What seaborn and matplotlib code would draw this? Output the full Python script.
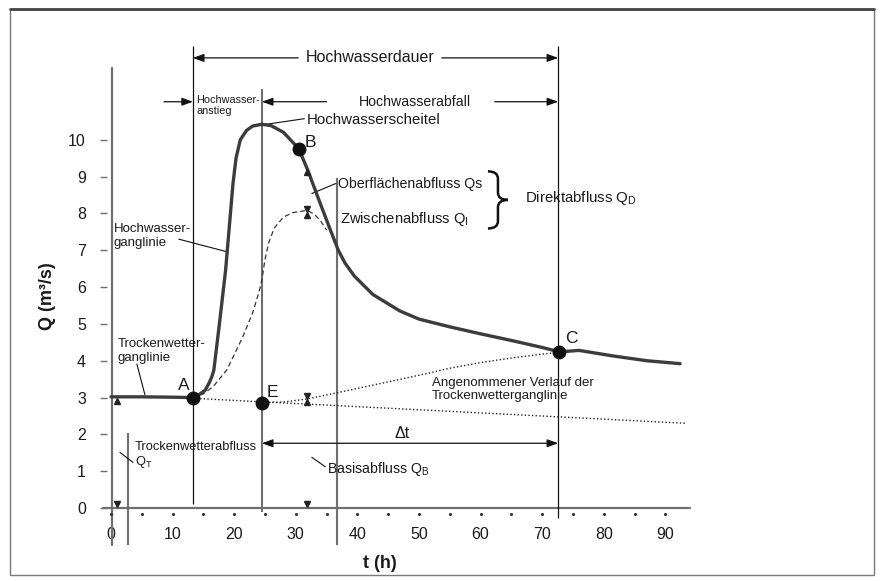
import numpy as np
import matplotlib
matplotlib.use("Agg")
import matplotlib.pyplot as plt
import seaborn as sns
from matplotlib.path import Path
from matplotlib.patches import PathPatch, Rectangle
from matplotlib.lines import Line2D

# ---------------- data ----------------
hyd_t = [0, 5, 10, 13.3, 14.3, 15.3, 16.0, 16.4, 16.7, 17.6, 18.6, 19.8, 20.3,
         21.0, 22.0, 23.0, 24.5, 26.0, 28.0, 30.5, 32.0, 33.9, 35.5, 36.9, 38.0,
         39.5, 42.5, 46.9, 50, 55, 60, 65, 70, 72.8, 76, 81.5, 87, 92.4]
hyd_q = [3.02, 3.02, 3.01, 3.0, 3.08, 3.2, 3.42, 3.58, 3.75, 5.0, 6.45, 8.8, 9.5,
         10.0, 10.25, 10.37, 10.42, 10.38, 10.2, 9.75, 9.15, 8.3, 7.6, 7.0, 6.65,
         6.3, 5.8, 5.35, 5.13, 4.92, 4.73, 4.55, 4.36, 4.24, 4.28, 4.13, 4.0, 3.92]

inter_t = [13.3, 15.0, 16.6, 18.8, 20.4, 21.4, 23.0, 24.0, 24.5, 25.0, 25.6,
           26.5, 28.0, 29.5, 31.8, 33.0, 34.0, 35.0]
inter_q = [3.0, 3.1, 3.3, 3.75, 4.3, 4.65, 5.3, 5.85, 6.2, 6.75, 7.2,
           7.6, 7.9, 8.02, 8.08, 7.98, 7.8, 7.55]

base_t = [13.3, 93.5]
base_q = [2.98, 2.30]

assumed_t = [24.5, 28.0, 31.8, 36.7, 43.7, 51.8, 54.5, 60.0, 65.3, 70.0, 72.8]
assumed_q = [2.86, 2.88, 2.96, 3.13, 3.38, 3.67, 3.78, 3.95, 4.08, 4.18, 4.23]

point_labels = ["A", "B", "C", "E"]
point_t = [13.3, 30.6, 72.8, 24.5]
point_q = [3.0, 9.75, 4.23, 2.86]

x_ticks = [0, 10, 20, 30, 40, 50, 60, 70, 80, 90]
x_minor = [0, 5, 10, 15, 20, 25, 30, 35, 40, 45, 50, 55, 60, 65, 70, 75, 80, 85, 90]
y_ticks = [0, 1, 2, 3, 4, 5, 6, 7, 8, 9, 10]

# measurement arrowheads
up_t = [1.0, 31.9, 31.9, 31.9]
up_q = [2.9, 9.12, 7.95, 2.875]
down_t = [1.0, 31.9, 31.9, 31.9]
down_q = [0.1, 8.12, 3.045, 0.1]

# ---------------- style ----------------
sns.set_theme(style="white")
plt.rcParams['font.family'] = ['Liberation Sans', 'DejaVu Sans']
plt.rcParams['mathtext.fontset'] = 'custom'
plt.rcParams['mathtext.rm'] = 'Liberation Sans'
plt.rcParams['mathtext.it'] = 'Liberation Sans:italic'
plt.rcParams['mathtext.bf'] = 'Liberation Sans:bold'

TXT = '#1a1a1a'
GRAY = '#6f6f6f'

fig = plt.figure(figsize=(8.84, 5.81), dpi=100)
ax = fig.add_axes([0.1207, 0.1033, 0.6598, 0.7831])
ax.set_xlim(-0.7, 94)
ax.set_ylim(-0.35, 12.0)
for s in ax.spines.values():
    s.set_visible(False)
ax.set_facecolor('white')

# axis lines
ax.plot([-1.3, 94], [0, 0], color=GRAY, lw=1.6, clip_on=False, zorder=2)
ax.plot([0.2, 0.2], [-1.0, 11.95], color=GRAY, lw=1.6, clip_on=False, zorder=2)

# ticks
ax.set_yticks(y_ticks)
ax.set_yticklabels([str(v) for v in y_ticks], fontsize=11.5, color=TXT)
ax.tick_params(axis='y', direction='out', length=5, width=1, color=GRAY, pad=10, left=True)
ax.set_xticks(x_ticks)
ax.set_xticklabels([str(v) for v in x_ticks], fontsize=11.5, color=TXT)
ax.tick_params(axis='x', length=0, pad=4)
ax.scatter(x_minor, [-0.15] * len(x_minor), s=1.5, color='#333', clip_on=False, zorder=3)
ax.grid(False)

# vertical reference lines
ax.vlines([2.8, 24.5, 36.7], [-1.0, -0.1, -1.0], [2.05, 11.38, 8.95],
          colors=GRAY, lw=1.5, clip_on=False, zorder=2)
ax.vlines([13.3, 72.6], [0.1, -0.27], [12.55, 12.55], colors='#111', lw=0.9,
          clip_on=False, zorder=2)

# curves
sns.lineplot(x=base_t, y=base_q, ax=ax, color='#222', lw=1.0,
             linestyle=(0, (1, 1.6)), sort=False, estimator=None, zorder=3)
sns.lineplot(x=assumed_t, y=assumed_q, ax=ax, color='#222', lw=1.0,
             linestyle=(0, (1, 1.6)), sort=False, estimator=None, zorder=3)
sns.lineplot(x=inter_t, y=inter_q, ax=ax, color='#333', lw=0.9,
             linestyle=(0, (4, 2.5)), sort=False, estimator=None, zorder=3)
sns.lineplot(x=hyd_t, y=hyd_q, ax=ax, color='#3c3c3c', lw=2.4,
             sort=False, estimator=None, zorder=4)

# points
ax.plot(point_t, point_q, 'o', color='#111', markersize=9, zorder=5, clip_on=False)
lab_pos = {"A": (12.8, 3.32, 'right'), "B": (31.4, 9.92, 'left'),
           "C": (73.7, 4.6, 'left'), "E": (25.3, 3.14, 'left')}
for lab in point_labels:
    tx, ty, ha = lab_pos[lab]
    ax.text(tx, ty, lab, fontsize=12.5, ha=ha, va='center', color=TXT, zorder=6)

# arrowhead markers
ax.plot(up_t, up_q, '^', color='#222', markersize=4.5, zorder=5, clip_on=False, lw=0)
ax.plot(down_t, down_q, 'v', color='#222', markersize=4.5, zorder=5, clip_on=False, lw=0)

# ---------------- annotations ----------------
def arrow(x0, y0, x1, y1, style='-|>'):
    ax.annotate('', xy=(x1, y1), xytext=(x0, y0),
                arrowprops=dict(arrowstyle=style + ',head_length=0.55,head_width=0.2',
                                lw=0.9, color='#111', shrinkA=0, shrinkB=0),
                annotation_clip=False)

def leader(x0, y0, x1, y1):
    ax.plot([x0, x1], [y0, y1], color='#111', lw=0.8, clip_on=False, zorder=3)

# Hochwasserdauer
ax.text(42.0, 12.22, 'Hochwasserdauer', fontsize=11.5, ha='center', va='center', color=TXT)
arrow(30.4, 12.22, 13.3, 12.22)
arrow(53.7, 12.22, 72.6, 12.22)

# Hochwasserabfall
ax.text(49.35, 11.03, 'Hochwasserabfall', fontsize=10.2, ha='center', va='center', color=TXT)
arrow(35.0, 11.03, 24.5, 11.03)
arrow(62.3, 11.03, 72.6, 11.03)

# Hochwasseranstieg
arrow(8.6, 11.03, 13.3, 11.03)
ax.text(13.9, 10.93, 'Hochwasser-\nanstieg', fontsize=7.8, ha='left', va='center',
        linespacing=1.1, color=TXT)

# Hochwasserscheitel
ax.text(31.8, 10.54, 'Hochwasserscheitel', fontsize=10.8, ha='left', va='center', color=TXT)
leader(24.5, 10.4, 31.4, 10.57)

# Oberflaechen / Zwischen
ax.text(36.9, 8.81, 'Oberflächenabfluss Qs', fontsize=10.2, ha='left', va='center', color=TXT)
leader(32.6, 8.54, 36.5, 8.81)
ax.text(37.2, 7.86, r'Zwischenabfluss Q$_\mathrm{I}$', fontsize=10.6, ha='left',
        va='center', color=TXT)

# brace
x0, xt = 61.2, 64.45
yt, yb = 9.14, 7.59
ym = (yt + yb) / 2
xc = (x0 + xt) / 2
hh = (yt - yb) * 0.13
verts = [(x0, yt), (xc, yt), (xc, yt - hh),
         (xc, ym + hh), (xc, ym), (xt, ym),
         (xc, ym), (xc, ym - hh),
         (xc, yb + hh), (xc, yb), (x0, yb)]
codes = [Path.MOVETO, Path.CURVE3, Path.CURVE3,
         Path.LINETO, Path.CURVE3, Path.CURVE3,
         Path.CURVE3, Path.CURVE3,
         Path.LINETO, Path.CURVE3, Path.CURVE3]
ax.add_patch(PathPatch(Path(verts, codes), fill=False, lw=1.8, ec='#111', clip_on=False))
ax.text(67.2, 8.41, r'Direktabfluss Q$_\mathrm{D}$', fontsize=10.8, ha='left',
        va='center', color=TXT)

# Hochwasser-ganglinie
ax.text(0.4, 7.39, 'Hochwasser-\nganglinie', fontsize=9.5, ha='left', va='center', color=TXT)
leader(11.0, 7.3, 19.0, 6.95)

# Trockenwetter-ganglinie
ax.text(1.1, 4.26, 'Trockenwetter-\nganglinie', fontsize=9.5, ha='left', va='center', color=TXT)
leader(4.2, 3.91, 5.5, 3.08)

# Trockenwetterabfluss
ax.text(3.9, 1.66, 'Trockenwetterabfluss', fontsize=9.3, ha='left', va='center', color=TXT)
ax.text(3.9, 1.25, r'Q$_\mathrm{T}$', fontsize=9.3, ha='left', va='center', color=TXT)
leader(1.46, 1.51, 3.57, 1.24)

# Delta t
ax.text(47.2, 2.02, 'Δt', fontsize=11.5, ha='center', va='center', color=TXT)
arrow(24.5, 1.76, 72.6, 1.76, style='<|-|>')

# Basisabfluss
ax.text(35.0, 1.05, r'Basisabfluss Q$_\mathrm{B}$', fontsize=10.2, ha='left',
        va='center', color=TXT)
leader(32.6, 1.38, 34.8, 1.12)

# Angenommener Verlauf
ax.text(52.06, 3.21, 'Angenommener Verlauf der\nTrockenwetterganglinie', fontsize=9.5,
        ha='left', va='center', linespacing=1.1, color=TXT)

# axis titles
fig.text(380 / 884, 1 - 563 / 581, 't (h)', fontsize=13, fontweight='bold',
         ha='center', va='center', color=TXT)
fig.text(47 / 884, 1 - 296 / 581, 'Q (m³/s)', fontsize=13, fontweight='bold',
         ha='center', va='center', rotation=90, color=TXT)

# frame around figure
fig.patches.append(Rectangle((10 / 884, 1 - 575 / 581), 864 / 884, 566 / 581,
                             transform=fig.transFigure, fill=False, ec='#7a7a7a', lw=1.0))
fig.lines.append(Line2D([10 / 884, 874 / 884], [1 - 9 / 581, 1 - 9 / 581],
                        transform=fig.transFigure, color='#444', lw=2.0))

fig.savefig('out.png', dpi=100, facecolor='white')
